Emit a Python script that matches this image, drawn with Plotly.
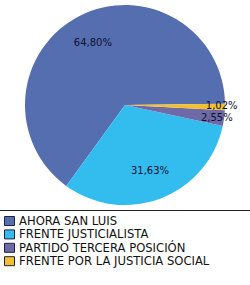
import plotly.graph_objects as go

labels = ["AHORA SAN LUIS", "FRENTE JUSTICIALISTA", "PARTIDO TERCERA POSICIÓN", "FRENTE POR LA JUSTICIA SOCIAL"]
values = [64.80, 31.63, 2.55, 1.02]
colors = ["#556eb0", "#33bdee", "#6d6aa7", "#f2c02e"]

W, H = 250, 285
texts = [f"{v:.2f}%".replace(".", ",") for v in values]

# first slice (AHORA) ends just above 3 o'clock going counterclockwise
first_angle = values[0] / sum(values) * 360
rotation = 89.3 - first_angle
domain = dict(x=[25 / W, 225 / W], y=[(H - 205) / H, (H - 5) / H])

fig = go.Figure()
# filled pie
fig.add_trace(go.Pie(
    labels=labels, values=values, textinfo="none",
    sort=False, direction="counterclockwise", rotation=rotation,
    marker=dict(colors=colors, line=dict(width=0)),
    hoverinfo="label+percent", domain=domain, showlegend=False,
))
# transparent ring carrying the percentage labels, pushed toward the rim
fig.add_trace(go.Pie(
    labels=labels, values=values, text=texts, textinfo="text",
    textposition="inside", insidetextorientation="horizontal",
    sort=False, direction="counterclockwise", rotation=rotation, hole=0.4,
    marker=dict(colors=["rgba(0,0,0,0)"] * len(values), line=dict(width=0)),
    textfont=dict(family="DejaVu Sans", size=10, color="#101030"),
    hoverinfo="skip", domain=domain, showlegend=False,
))

# legend drawn as a compact list under the separator line
shapes = [dict(type="line", xref="paper", yref="paper", x0=0, x1=1,
               y0=(H - 210.5) / H, y1=(H - 210.5) / H,
               line=dict(color="#222222", width=1))]
annotations = []
for i, (lab, col) in enumerate(zip(labels, colors)):
    yc = 221 + i * 13.4
    shapes.append(dict(type="rect", xref="paper", yref="paper",
                       x0=4.5 / W, x1=14.5 / W,
                       y0=(H - yc - 4.5) / H, y1=(H - yc + 4.5) / H,
                       fillcolor=col, line=dict(color="#202040", width=1)))
    annotations.append(dict(xref="paper", yref="paper", x=17 / W, y=(H - yc) / H,
                            xanchor="left", yanchor="middle", showarrow=False,
                            text=lab, font=dict(family="DejaVu Sans", size=11.6, color="#111111")))

fig.update_layout(
    width=W, height=H,
    margin=dict(l=0, r=0, t=0, b=0),
    paper_bgcolor="white",
    uniformtext=dict(minsize=10, mode="show"),
    shapes=shapes,
    annotations=annotations,
)

fig.write_html("out.html")
